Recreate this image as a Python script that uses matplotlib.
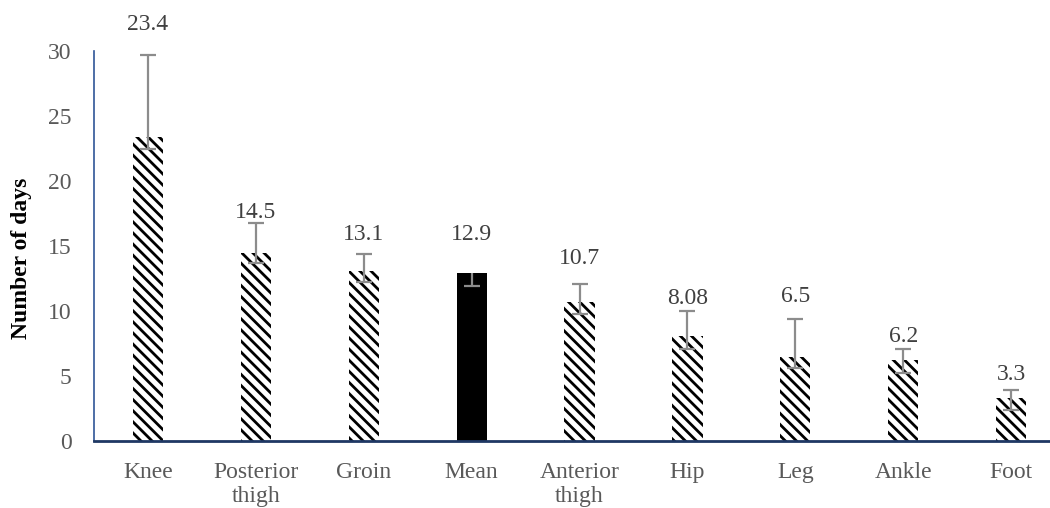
import matplotlib
matplotlib.use("Agg")
import matplotlib.pyplot as plt
import numpy as np

categories = ["Knee", "Posterior\nthigh", "Groin", "Mean", "Anterior\nthigh", "Hip", "Leg", "Ankle", "Foot"]
values = [23.4, 14.5, 13.1, 12.9, 10.7, 8.08, 6.5, 6.2, 3.3]
err_upper = [6.3, 2.25, 1.3, 0.0, 1.4, 1.9, 2.9, 0.9, 0.6]
err_lower = [0.9, 0.8, 0.9, 1.0, 0.9, 1.0, 0.9, 0.95, 0.95]
label_y = [32.0, 17.6, 15.9, 15.9, 14.0, 11.0, 11.15, 8.0, 5.1]
yticks = [0, 5, 10, 15, 20, 25, 30]

plt.rcParams['font.family'] = ['Liberation Serif', 'DejaVu Serif']
plt.rcParams['hatch.linewidth'] = 2.0
plt.rcParams['hatch.color'] = 'black'

W, H = 1050, 508
fig = plt.figure(figsize=(W / 100, H / 100), dpi=100)
ax = fig.add_axes([94 / W, 1 - 441 / H, 1 - 94 / W, (441 - 51) / H])

x = np.arange(len(categories))
for i, (xi, v) in enumerate(zip(x, values)):
    is_mean = categories[i] == "Mean"
    if is_mean:
        ax.bar(xi, v, width=0.28, color='black', edgecolor='black', linewidth=0, zorder=2)
    else:
        ax.bar(xi, v, width=0.28, color='white', edgecolor='black', hatch='\\\\\\', linewidth=0, zorder=2)
    _, caps, _ = ax.errorbar(xi, v, yerr=[[err_lower[i]], [err_upper[i]]], fmt='none',
                             ecolor='#8c8c8c', elinewidth=1.6, capsize=6, capthick=1.6, zorder=3)
    if err_upper[i] == 0 and len(caps) > 1:
        caps[1].set_visible(False)

for xi, v, ly in zip(x, values, label_y):
    ax.text(xi, ly, f"{v:g}", ha='center', va='center', fontsize=17, color='#404040', clip_on=False)

ax.set_xlim(-0.5, -0.5 + (W - 94) / 107.9)
ax.set_ylim(0, 30)
ax.set_yticks(yticks)
ax.set_xticks(x)
ax.set_xticklabels(categories, linespacing=1.2)
ax.tick_params(axis='both', length=0, labelsize=17, labelcolor='#595959')
ax.tick_params(axis='y', pad=16)
ax.tick_params(axis='x', pad=15)

for s in ['top', 'right']:
    ax.spines[s].set_visible(False)
ax.spines['left'].set_color('#2f5597')
ax.spines['left'].set_linewidth(1.2)
ax.spines['bottom'].set_color('#1f3864')
ax.spines['bottom'].set_linewidth(2)

fig.text(22 / W, 1 - 258 / H, "Number of days", rotation=90, ha='center', va='center',
         fontsize=17, fontweight='bold', color='black')

fig.savefig("out.png", dpi=100)
